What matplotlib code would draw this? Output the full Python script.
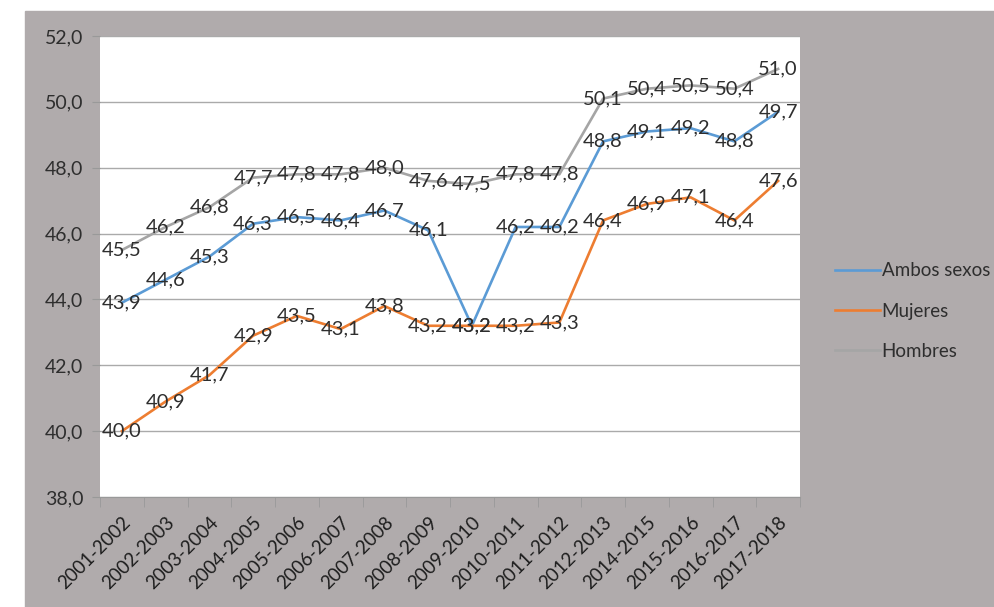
import matplotlib.pyplot as plt
import numpy as np
from matplotlib.patches import Rectangle

periodos = ['2001-2002', '2002-2003', '2003-2004', '2004-2005', '2005-2006',
            '2006-2007', '2007-2008', '2008-2009', '2009-2010', '2010-2011',
            '2011-2012', '2012-2013', '2014-2015', '2015-2016', '2016-2017',
            '2017-2018']
ambos = [43.9, 44.6, 45.3, 46.3, 46.5, 46.4, 46.7, 46.1, 43.2, 46.2,
         46.2, 48.8, 49.1, 49.2, 48.8, 49.7]
mujeres = [40.0, 40.9, 41.7, 42.9, 43.5, 43.1, 43.8, 43.2, 43.2, 43.2,
           43.3, 46.4, 46.9, 47.1, 46.4, 47.6]
hombres = [45.5, 46.2, 46.8, 47.7, 47.8, 47.8, 48.0, 47.6, 47.5, 47.8,
           47.8, 50.1, 50.4, 50.5, 50.4, 51.0]
yticks = [38, 40, 42, 44, 46, 48, 50, 52]

plt.rcParams['font.family'] = ['Lato', 'DejaVu Sans']

bg = '#b0abac'
txt = '#2e2e2e'

fig = plt.figure(figsize=(9.95, 6.07), dpi=100)
fig.patches.append(Rectangle((25 / 995, 0), 1 - 25 / 995, 596 / 607,
                             transform=fig.transFigure, color=bg, zorder=-10))

ax = fig.add_axes([100 / 995, 110 / 607, 700 / 995, 461 / 607])
ax.set_facecolor('white')

x = np.arange(len(periodos))
series = [('Ambos sexos', ambos, '#5b9bd5'),
          ('Mujeres', mujeres, '#ed7d31'),
          ('Hombres', hombres, '#a5a5a5')]

for name, vals, col in series:
    ax.plot(x, vals, color=col, lw=1.9, label=name, zorder=3)
for name, vals, col in series:
    for xi, v in zip(x, vals):
        ax.text(xi, v, f'{v:.1f}'.replace('.', ','), ha='center', va='center',
                fontsize=14.5, color=txt, zorder=4)

ax.set_xlim(-0.5, len(periodos) - 0.5)
ax.set_ylim(38, 52)
ax.set_yticks(yticks)
ax.set_yticklabels([f'{v:.1f}'.replace('.', ',') for v in yticks], fontsize=14, color=txt)
ax.grid(axis='y', color='#aaaaaa', lw=1)
ax.set_axisbelow(True)

ax.set_xticks(x)
ax.set_xticklabels(periodos, rotation=45, ha='right', rotation_mode='anchor',
                   fontsize=13.5, color='#1e1e1e')
ax.set_xticks(np.arange(-0.5, len(periodos)), minor=True)
ax.tick_params(axis='x', which='major', length=0, pad=12)
ax.tick_params(axis='x', which='minor', length=7, color='#999999')
ax.tick_params(axis='y', length=6, color='#999999', pad=6)

for s in ['top', 'right', 'left']:
    ax.spines[s].set_visible(False)
ax.spines['bottom'].set_color('#999999')

fig.legend(loc='center left', bbox_to_anchor=(818 / 995, 1 - 311 / 607),
           frameon=False, fontsize=13.5, handlelength=2.4, handletextpad=0.1,
           labelspacing=1.25, labelcolor=txt)

plt.savefig('out.png', dpi=100, facecolor='white')
